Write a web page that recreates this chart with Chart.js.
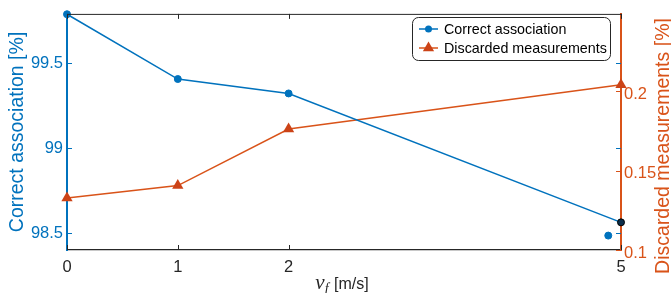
<!DOCTYPE html>
<html>
<head>
<meta charset="utf-8">
<script src="https://cdn.jsdelivr.net/npm/chart.js@4"></script>
<style>
  html, body { margin: 0; padding: 0; background: #ffffff; }
  #wrap { width: 671px; height: 293px; }
</style>
</head>
<body>
<div id="wrap"><canvas id="chart" width="671" height="293"></canvas></div>
<script>
// values
const speeds = [0, 1, 2, 5];
const correctAssoc = [99.79, 99.408, 99.323, 98.563];
const discarded = [0.1328, 0.1406, 0.1762, 0.2042];
const strayPoint = [{ x: 4.885, y: 98.485 }];

const xTicks = [0, 1, 2, 5];
const leftTicks = [98.5, 99, 99.5];
const rightTicks = [0.1, 0.15, 0.2];

const BLUE = '#0072BD';
const ORANGE = '#D95319';
const MARKER_ORANGE = '#CC4317';
const DARK = '#262626';
const FONT = '"Liberation Sans", Arial, sans-serif';

const setTicks = (values) => (scale) => {
    scale.ticks = values.map(v => ({ value: v }));
};

// inward tick marks, top box edge, right axis title, x title and legend
const matlabBits = {
    id: "matlabBits",
    afterDraw(chart)
    {
        const { ctx, chartArea: { left, right, top, bottom }, scales: { x, y, y2 } } = chart;
        const len = 5;

        ctx.save();
        ctx.lineWidth = 1;

        // top edge
        ctx.strokeStyle = DARK;
        ctx.beginPath();
        ctx.moveTo(left, top + 0.5);
        ctx.lineTo(right, top + 0.5);
        ctx.stroke();

        // x ticks, bottom and top
        for (const v of xTicks)
        {
            const px = Math.round(x.getPixelForValue(v)) + 0.5;
            ctx.beginPath();
            ctx.moveTo(px, bottom);
            ctx.lineTo(px, bottom - len);
            ctx.moveTo(px, top);
            ctx.lineTo(px, top + len);
            ctx.stroke();
        }

        // left axis ticks, mirrored on the right side
        ctx.strokeStyle = BLUE;
        for (const v of leftTicks)
        {
            const py = Math.round(y.getPixelForValue(v)) + 0.5;
            ctx.beginPath();
            ctx.moveTo(left, py);
            ctx.lineTo(left + len, py);
            ctx.moveTo(right, py);
            ctx.lineTo(right - len, py);
            ctx.stroke();
        }

        ctx.strokeStyle = ORANGE;
        for (const v of rightTicks)
        {
            const py = Math.round(y2.getPixelForValue(v)) + 0.5;
            ctx.beginPath();
            ctx.moveTo(right, py);
            ctx.lineTo(right - len, py);
            ctx.stroke();
        }

        // right axis title, reading bottom to top like the left one
        ctx.fillStyle = ORANGE;
        ctx.font = '19.5px ' + FONT;
        ctx.textAlign = 'center';
        ctx.textBaseline = 'middle';
        ctx.translate(664, 146);
        ctx.rotate(-Math.PI / 2);
        ctx.fillText('Discarded measurements [%]', 0, 0);
        ctx.setTransform(1, 0, 0, 1, 0, 0);

        // x title: italic v with subscript f, then unit
        ctx.textAlign = 'left';
        ctx.textBaseline = 'alphabetic';
        ctx.fillStyle = DARK;
        const vFont = 'italic 21px "Liberation Serif", "DejaVu Serif", serif';
        const fFont = 'italic 14px "Liberation Serif", "DejaVu Serif", serif';
        const uFont = '16px ' + FONT;
        ctx.font = vFont;
        const wv = ctx.measureText('v').width;
        ctx.font = fFont;
        const wf = ctx.measureText('f').width;
        ctx.font = uFont;
        const wu = ctx.measureText(' [m/s]').width;
        let tx = 342 - (wv + wf + 1 + wu) / 2;
        const base = 289;
        ctx.font = vFont;
        ctx.fillText('v', tx, base);
        tx += wv;
        ctx.font = fFont;
        ctx.fillText('f', tx, base + 4);
        tx += wf + 1;
        ctx.font = uFont;
        ctx.fillText(' [m/s]', tx, base);

        // legend box
        const bx = 412.5, by = 17.5, bw = 198, bh = 43, r = 6;
        ctx.fillStyle = '#ffffff';
        ctx.strokeStyle = DARK;
        ctx.lineWidth = 1;
        ctx.beginPath();
        ctx.roundRect(bx, by, bw, bh, r);
        ctx.fill();
        ctx.stroke();

        const rows = [
            { text: 'Correct association', color: BLUE, y: 29 },
            { text: 'Discarded measurements', color: ORANGE, y: 48 }
        ];
        ctx.font = '14.3px ' + FONT;
        ctx.textBaseline = 'middle';
        rows.forEach((row, index) =>
        {
            ctx.strokeStyle = row.color;
            ctx.lineWidth = 1.5;
            ctx.beginPath();
            ctx.moveTo(419, row.y);
            ctx.lineTo(438, row.y);
            ctx.stroke();
            if (index === 0)
            {
                ctx.fillStyle = BLUE;
                ctx.beginPath();
                ctx.arc(428.5, row.y, 3.5, 0, Math.PI * 2);
                ctx.fill();
            }
            else
            {
                ctx.fillStyle = MARKER_ORANGE;
                const rr = 6.5;
                ctx.beginPath();
                ctx.moveTo(428.5, row.y - rr);
                ctx.lineTo(428.5 + rr * 0.866, row.y + rr / 2);
                ctx.lineTo(428.5 - rr * 0.866, row.y + rr / 2);
                ctx.closePath();
                ctx.fill();
            }
            ctx.fillStyle = '#000000';
            ctx.fillText(row.text, 444, row.y + 1);
        });

        ctx.restore();
    }
};

new Chart(document.getElementById("chart"), {
    type: 'line',
    data: {
        datasets: [
            {
                label: 'Correct association',
                data: speeds.map((s, i) => ({ x: s, y: correctAssoc[i] })),
                yAxisID: 'y',
                borderColor: BLUE,
                borderWidth: 1.5,
                pointRadius: 3.5,
                pointBackgroundColor: [BLUE, BLUE, BLUE, '#0b2d4a'],
                pointBorderColor: [BLUE, BLUE, BLUE, '#000000'],
                pointBorderWidth: 1,
                clip: false,
                tension: 0
            },
            {
                label: 'Discarded measurements',
                data: speeds.map((s, i) => ({ x: s, y: discarded[i] })),
                yAxisID: 'y2',
                borderColor: ORANGE,
                borderWidth: 1.5,
                pointStyle: 'triangle',
                pointRadius: 6.5,
                pointBackgroundColor: MARKER_ORANGE,
                pointBorderColor: MARKER_ORANGE,
                pointBorderWidth: 0,
                clip: false,
                tension: 0
            },
            {
                label: 'stray',
                data: strayPoint,
                yAxisID: 'y',
                showLine: false,
                pointRadius: 3.5,
                pointBackgroundColor: BLUE,
                pointBorderColor: BLUE,
                clip: false
            }
        ]
    },
    options: {
        responsive: false,
        animation: false,
        layout: { padding: { top: 12, left: 0, right: 0, bottom: 0 } },
        plugins: {
            legend: { display: false },
            tooltip: { enabled: false }
        },
        scales: {
            x: {
                type: 'linear',
                position: 'bottom',
                min: 0,
                max: 5,
                afterBuildTicks: setTicks(xTicks),
                afterFit: (s) => { s.height = 43; },
                grid: { display: false, drawTicks: false },
                border: { color: DARK, width: 1.2 },
                ticks: {
                    color: DARK,
                    padding: 8,
                    font: { family: FONT, size: 16.5 },
                    callback: (v) => String(v)
                }
            },
            y: {
                position: 'left',
                min: 98.40,
                max: 99.792,
                afterBuildTicks: setTicks(leftTicks),
                afterFit: (s) => { s.width = 67; },
                grid: { display: false, drawTicks: false },
                border: { color: BLUE, width: 2 },
                ticks: {
                    color: BLUE,
                    padding: 4,
                    font: { family: FONT, size: 16.5 },
                    callback: (v) => String(v)
                },
                title: {
                    display: true,
                    text: 'Correct association [%]',
                    color: BLUE,
                    padding: { top: 6, bottom: 0 },
                    font: { family: FONT, size: 19.5 }
                }
            },
            y2: {
                position: 'right',
                min: 0.1,
                max: 0.2488,
                afterBuildTicks: setTicks(rightTicks),
                afterFit: (s) => { s.width = 50; },
                grid: { display: false, drawTicks: false },
                border: { color: ORANGE, width: 2 },
                ticks: {
                    color: ORANGE,
                    padding: 3,
                    labelOffset: 3,
                    font: { family: FONT, size: 16.5 },
                    callback: (v) => String(v)
                }
            }
        }
    },
    plugins: [matlabBits]
});
</script>
</body>
</html>
